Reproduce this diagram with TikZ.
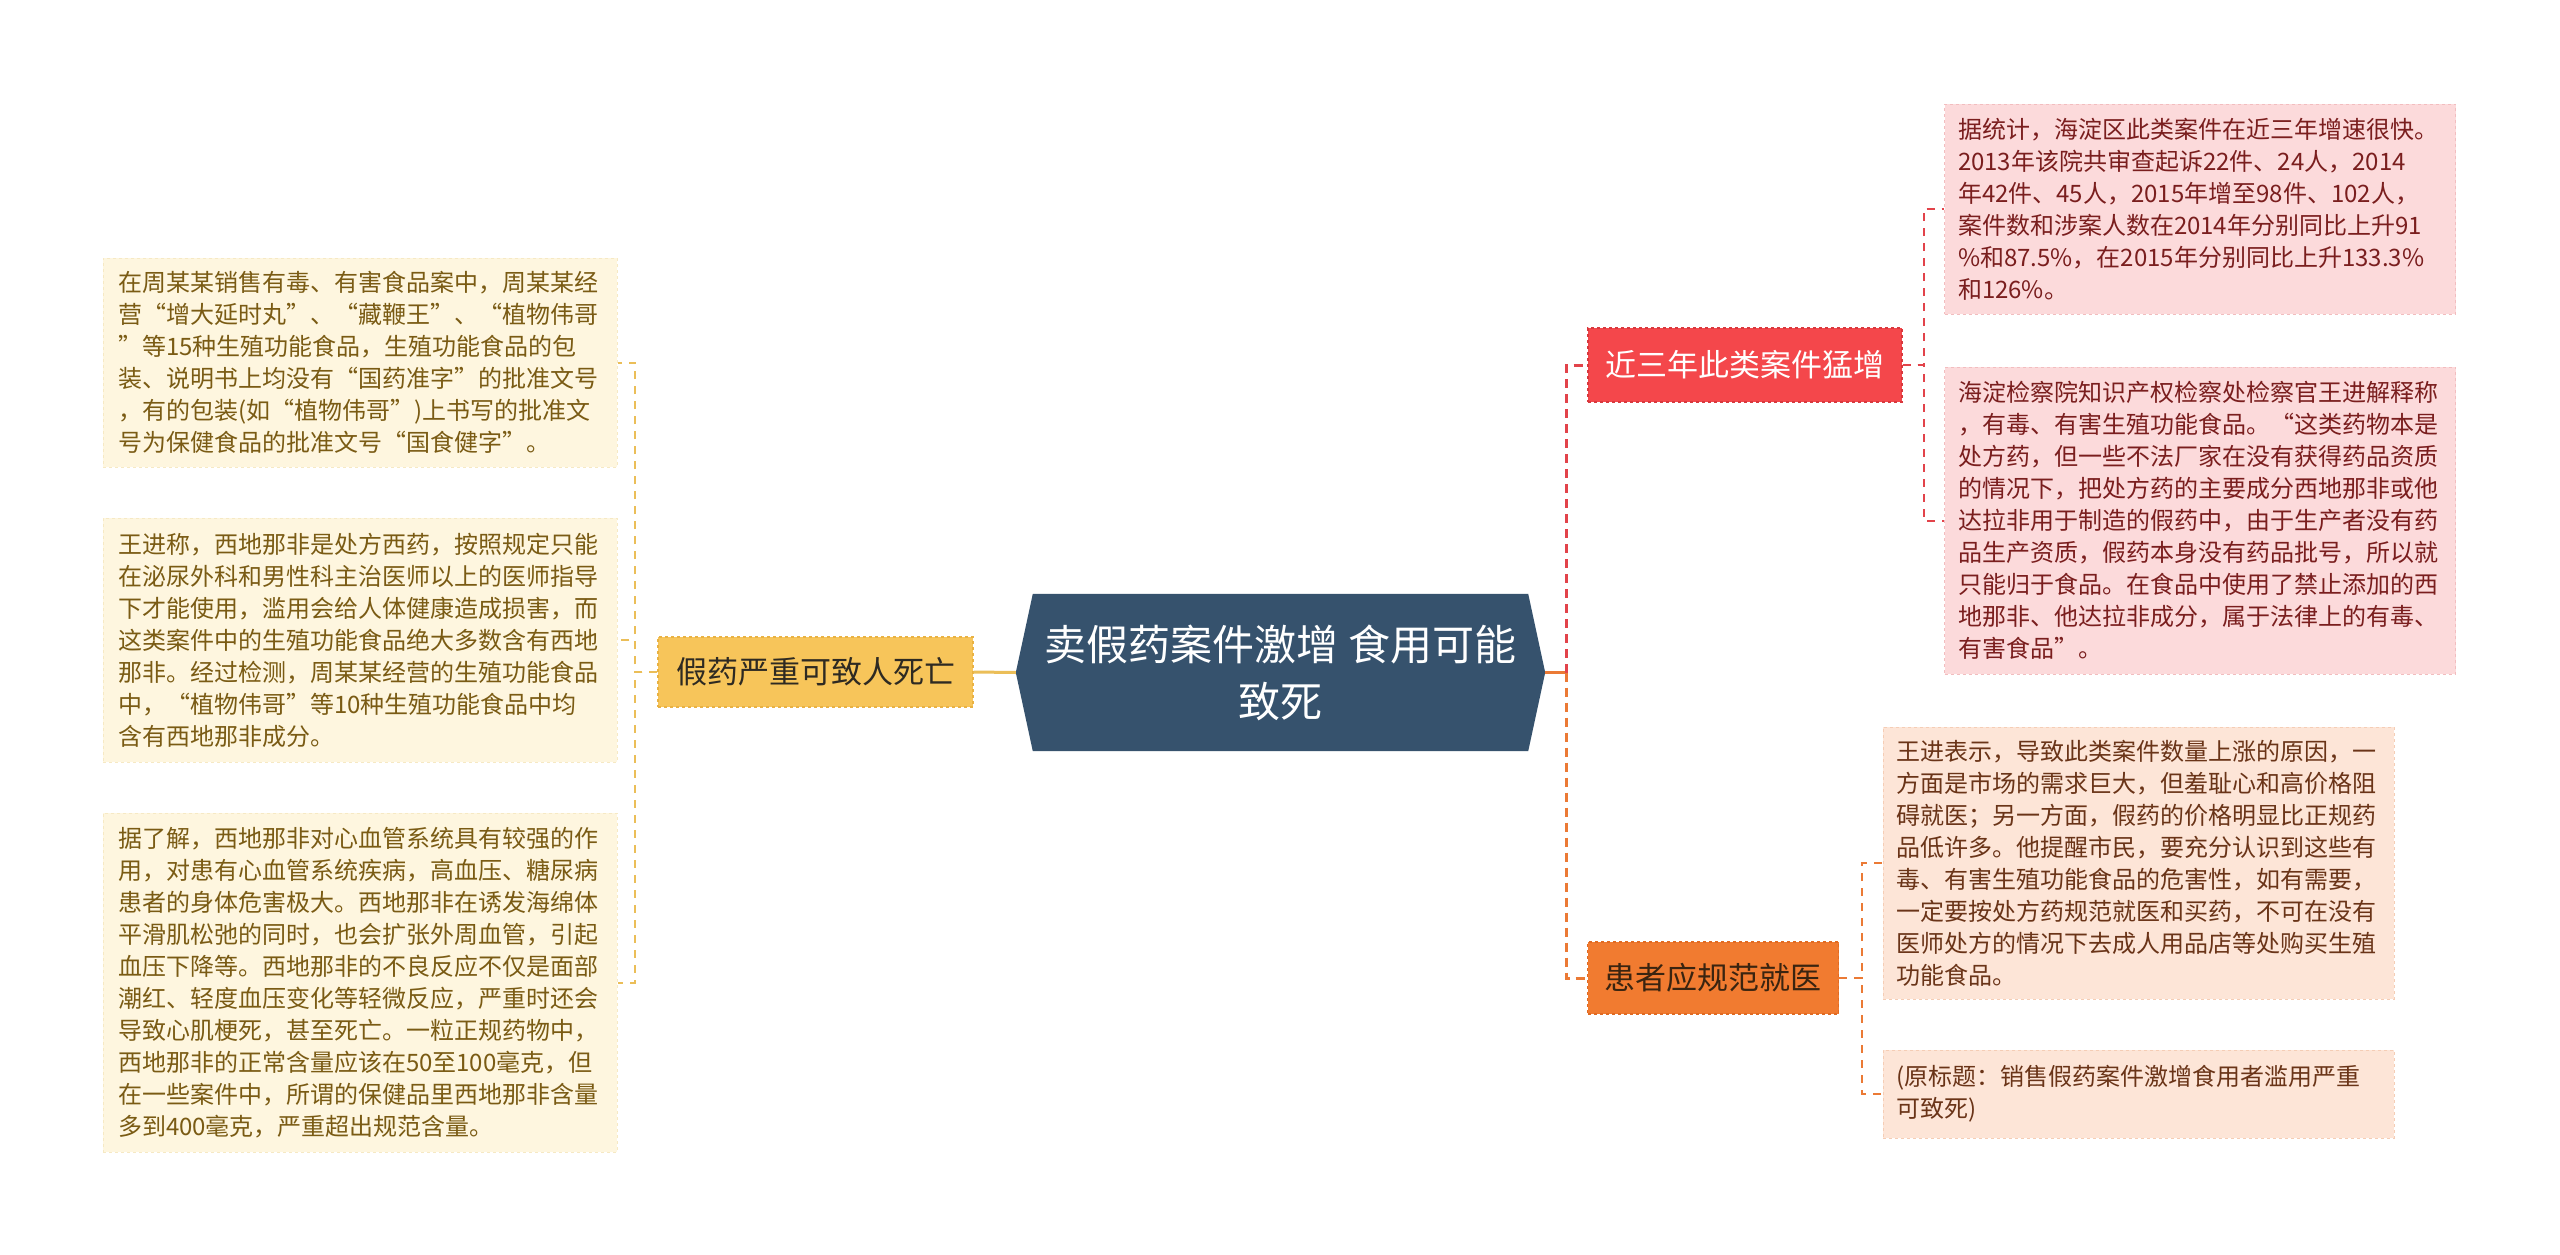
\documentclass[tikz,border=0pt]{standalone}
\usepackage{fontspec}
\setmainfont{Noto Sans CJK SC}
\usetikzlibrary{backgrounds}
\definecolor{rootfill}{HTML}{36526D}
\definecolor{ybfill}{HTML}{F7C55A}
\definecolor{ybdraw}{HTML}{E9B243}
\definecolor{ybtext}{HTML}{2E2A22}
\definecolor{lfill}{HTML}{FEF6DF}
\definecolor{ldraw}{HTML}{F6E9C4}
\definecolor{ltext}{HTML}{7A5B14}
\definecolor{cY}{HTML}{EBBE58}
\definecolor{rbfill}{HTML}{F4474B}
\definecolor{rbdraw}{HTML}{D9383D}
\definecolor{rfill}{HTML}{FCDADB}
\definecolor{rdraw}{HTML}{F2BDBF}
\definecolor{rtext}{HTML}{7A1E1E}
\definecolor{cR}{HTML}{E2434A}
\definecolor{obfill}{HTML}{F17B30}
\definecolor{obdraw}{HTML}{E06A22}
\definecolor{obtext}{HTML}{3A2410}
\definecolor{ofill}{HTML}{FDE5D7}
\definecolor{odraw}{HTML}{F5CDB5}
\definecolor{otext}{HTML}{6A3418}
\definecolor{cO}{HTML}{EB7A35}
\tikzset{
  rootnode/.style={rectangle, minimum width=529pt, minimum height=157pt, inner sep=0pt,
    text=white, align=center, font=\fontsize{42pt}{57pt}\selectfont},
  branch/.style={rectangle, dashed, line width=1.2pt, inner xsep=17pt, inner ysep=0pt,
    font=\fontsize{31pt}{36pt}\selectfont},
  leaf/.style={rectangle, dashed, line width=1pt, text width=484pt, inner ysep=0pt,
    align=left, font=\fontsize{24pt}{32pt}\selectfont},
  leafL/.style={leaf, fill=lfill, draw=ldraw, text=ltext, inner xsep=15pt},
  leafR/.style={leaf, fill=rfill, draw=rdraw, text=rtext, inner xsep=13.5pt},
  leafO/.style={leaf, fill=ofill, draw=odraw, text=otext, inner xsep=13.5pt},
  mainlink/.style={line width=3pt},
  busdash/.style={line width=3pt, dash pattern=on 9pt off 6pt},
  leafdash/.style={line width=2pt, dash pattern=on 8pt off 7pt},
}
\begin{document}
\begin{tikzpicture}[x=1pt,y=-1pt]
\useasboundingbox (0,0) rectangle (2560,1255);

% root
\node[rootnode] (root) at (1280.5,672.5) {卖假药案件激增 食用可能\\致死};
\begin{pgfonlayer}{background}
\fill[white] (0,0) rectangle (2560,1255);
\fill[rootfill] (root.west) -- ([xshift=17pt]root.north west) -- ([xshift=-17pt]root.north east)
  -- (root.east) -- ([xshift=-17pt]root.south east) -- ([xshift=17pt]root.south west) -- cycle;
\end{pgfonlayer}

% left branch
\node[branch, fill=ybfill, draw=ybdraw, text=ybtext, minimum width=315pt, minimum height=70pt] (yb) at (815.5,672) {假药严重可致人死亡};

\node[leafL, minimum height=209pt] (L1) at (360,362.5) {在周某某销售有毒、有害食品案中，周某某经\\营“增大延时丸”、“藏鞭王”、“植物伟哥\\”等15种生殖功能食品，生殖功能食品的包\\装、说明书上均没有“国药准字”的批准文号\\，有的包装(如“植物伟哥”)上书写的批准文\\号为保健食品的批准文号“国食健字”。};
\node[leafL, minimum height=244pt] (L2) at (360,640) {王进称，西地那非是处方西药，按照规定只能\\在泌尿外科和男性科主治医师以上的医师指导\\下才能使用，滥用会给人体健康造成损害，而\\这类案件中的生殖功能食品绝大多数含有西地\\那非。经过检测，周某某经营的生殖功能食品\\中，“植物伟哥”等10种生殖功能食品中均\\含有西地那非成分。};
\node[leafL, minimum height=339pt] (L3) at (360,982.5) {据了解，西地那非对心血管系统具有较强的作\\用，对患有心血管系统疾病，高血压、糖尿病\\患者的身体危害极大。西地那非在诱发海绵体\\平滑肌松弛的同时，也会扩张外周血管，引起\\血压下降等。西地那非的不良反应不仅是面部\\潮红、轻度血压变化等轻微反应，严重时还会\\导致心肌梗死，甚至死亡。一粒正规药物中，\\西地那非的正常含量应该在50至100毫克，但\\在一些案件中，所谓的保健品里西地那非含量\\多到400毫克，严重超出规范含量。};

% right branches
\node[branch, fill=rbfill, draw=rbdraw, text=white, minimum width=314pt, minimum height=74pt] (rb) at (1745,365) {近三年此类案件猛增};
\node[branch, fill=obfill, draw=obdraw, text=obtext, minimum width=250pt, minimum height=72pt] (ob) at (1713,978) {患者应规范就医};

\node[leafR, minimum height=210pt] (R1) at (2200,209) {据统计，海淀区此类案件在近三年增速很快。\\2013年该院共审查起诉22件、24人，2014\\年42件、45人，2015年增至98件、102人，\\案件数和涉案人数在2014年分别同比上升91\\\%和87.5\%，在2015年分别同比上升133.3\%\\和126\%。};
\node[leafR, minimum height=307pt] (R2) at (2200,520.5) {海淀检察院知识产权检察处检察官王进解释称\\，有毒、有害生殖功能食品。“这类药物本是\\处方药，但一些不法厂家在没有获得药品资质\\的情况下，把处方药的主要成分西地那非或他\\达拉非用于制造的假药中，由于生产者没有药\\品生产资质，假药本身没有药品批号，所以就\\只能归于食品。在食品中使用了禁止添加的西\\地那非、他达拉非成分，属于法律上的有毒、\\有害食品”。};

\node[leafO, minimum height=272pt] (O1) at (2138.5,863) {王进表示，导致此类案件数量上涨的原因，一\\方面是市场的需求巨大，但羞耻心和高价格阻\\碍就医；另一方面，假药的价格明显比正规药\\品低许多。他提醒市民，要充分认识到这些有\\毒、有害生殖功能食品的危害性，如有需要，\\一定要按处方药规范就医和买药，不可在没有\\医师处方的情况下去成人用品店等处购买生殖\\功能食品。};
\node[leafO, minimum height=88pt] (O2) at (2138.5,1094) {(原标题：销售假药案件激增食用者滥用严重\\可致死)};

% connectors left
\draw[cY, mainlink] (root.west) -- (yb.east);
\foreach \n in {L1,L2,L3}
  \draw[cY, leafdash] (yb.west) -- ++(-22,0) |- (\n.east);

% connectors right
\draw[cO, mainlink] (root.east) -- ++(21,0) coordinate (rj);
\draw[cR, busdash] (rj) |- (rb.west);
\draw[cO, busdash] (rj) |- (ob.west);
\foreach \n in {R1,R2}
  \draw[cR, leafdash] (rb.east) -- ++(21,0) |- (\n.west);
\foreach \n in {O1,O2}
  \draw[cO, leafdash] (ob.east) -- ++(23,0) |- (\n.west);
\end{tikzpicture}
\end{document}
